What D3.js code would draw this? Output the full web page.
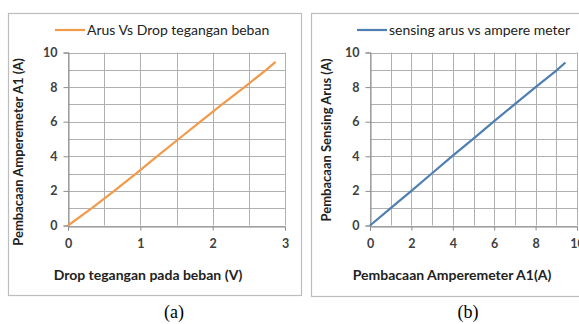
<!DOCTYPE html>
<html>
<head>
<meta charset="utf-8">
<script src="https://cdn.jsdelivr.net/npm/d3@7"></script>
<style>
  html, body { margin: 0; padding: 0; background: #fff; }
  svg { display: block; }
</style>
</head>
<body>
<svg id="chart" width="579" height="324"></svg>
<script>
// chart (a): current vs voltage drop across load
const dropVolt = [0, 0.33, 0.64, 0.94, 1.23, 1.53, 1.83, 2.13, 2.44, 2.74, 2.87];
const arusA = [0, 1, 2, 3, 4, 5, 6, 7, 8, 9, 9.46];
// chart (b): current sensor vs ampere meter
const ampereMeter = [0, 1, 2, 3, 4, 5, 6, 7, 8, 9, 9.44];
const sensingArus = [0, 1, 2, 3.02, 4.04, 5.02, 6.03, 7.02, 8, 8.95, 9.42];

const xTicksA = [0, 1, 2, 3];
const xTicksB = [0, 2, 4, 6, 8, 10];
const yTicks = [0, 2, 4, 6, 8, 10];

const svg = d3.select('#chart');
const font = 'Lato, "Open Sans", sans-serif';

function panel(opts) {
  const g = svg.append('g');

  // outer frame
  g.append('rect')
    .attr('x', opts.frame[0] + 0.5).attr('y', opts.frame[1] + 0.5)
    .attr('width', opts.frame[2]).attr('height', opts.frame[3])
    .attr('fill', '#fff').attr('stroke', '#bdbdbd').attr('stroke-width', 1.2);

  const x = d3.scaleLinear().domain(opts.xDomain).range([opts.left, opts.right]);
  const y = d3.scaleLinear().domain([0, 10]).range([225.5, 52.5]);

  // grid
  g.append('g').selectAll('line').data(d3.range(opts.xDomain[0], opts.xDomain[1] + 1e-9, opts.xMinor))
    .join('line')
    .attr('x1', d => Math.round(x(d)) + 0.5).attr('x2', d => Math.round(x(d)) + 0.5)
    .attr('y1', y(0)).attr('y2', y(10))
    .attr('stroke', '#b0b0b0').attr('stroke-width', 1);
  g.append('g').selectAll('line').data(d3.range(0, 10.01, 1))
    .join('line')
    .attr('x1', x(opts.xDomain[0])).attr('x2', x(opts.xDomain[1]))
    .attr('y1', d => Math.round(y(d)) + 0.5).attr('y2', d => Math.round(y(d)) + 0.5)
    .attr('stroke', '#b0b0b0').attr('stroke-width', 1);

  // axes
  const yAxis = g.append('g')
    .attr('transform', `translate(${Math.round(x(opts.xDomain[0])) + 0.5},0)`)
    .call(d3.axisLeft(y).tickValues(yTicks).tickFormat(d3.format('d')).tickSize(5).tickPadding(6));
  const xAxis = g.append('g')
    .attr('transform', `translate(0,${Math.round(y(0)) + 0.5})`)
    .call(d3.axisBottom(x).tickValues(opts.xTicks).tickFormat(d3.format('d')).tickSize(4).tickPadding(9));
  [yAxis, xAxis].forEach(a => {
    a.select('.domain').attr('stroke', '#8c8c8c');
    a.selectAll('.tick line').attr('stroke', '#8c8c8c');
    a.selectAll('.tick text')
      .attr('fill', '#404040')
      .style('font-family', font).style('font-size', '12.5px').style('font-weight', 'bold');
  });

  // series line
  const pts = opts.xs.map((v, i) => [v, opts.ys[i]]);
  g.append('path')
    .datum(pts)
    .attr('fill', 'none')
    .attr('stroke', opts.color).attr('stroke-width', 2.2)
    .attr('stroke-linejoin', 'round')
    .attr('d', d3.line().x(d => x(d[0])).y(d => y(d[1])));

  // legend
  g.append('line')
    .attr('x1', opts.legendX).attr('x2', opts.legendX + 30)
    .attr('y1', 30).attr('y2', 30)
    .attr('stroke', opts.color).attr('stroke-width', 2.2);
  g.append('text')
    .attr('x', opts.legendX + 32).attr('y', 34.5)
    .attr('fill', '#222')
    .style('font-family', font).style('font-size', '14px')
    .text(opts.legend);

  // axis titles
  g.append('text')
    .attr('x', opts.xTitleX).attr('y', 280)
    .attr('text-anchor', 'middle')
    .attr('fill', '#222')
    .style('font-family', font).style('font-size', '14px').style('font-weight', 'bold')
    .text(opts.xTitle);
  g.append('text')
    .attr('transform', `translate(${opts.yTitleX},${opts.yTitleY}) rotate(-90)`)
    .attr('text-anchor', 'middle')
    .attr('fill', '#222')
    .style('font-family', font).style('font-size', '13px').style('font-weight', 'bold')
    .text(opts.yTitle);

  // caption
  g.append('text')
    .attr('x', opts.captionX).attr('y', 318)
    .attr('text-anchor', 'middle')
    .attr('fill', '#000')
    .style('font-family', '"Liberation Serif", "DejaVu Serif", serif').style('font-size', '18px')
    .text(opts.caption);
}

panel({
  frame: [8, 13, 293, 282],
  xDomain: [0, 3], xMinor: 0.5, xTicks: xTicksA,
  left: 68, right: 285,
  xs: dropVolt, ys: arusA,
  color: '#f39a4a',
  legendX: 55, legend: 'Arus Vs Drop tegangan beban',
  xTitle: 'Drop tegangan pada beban (V)', xTitleX: 148,
  yTitle: 'Pembacaan Amperemeter A1 (A)', yTitleX: 23, yTitleY: 152,
  caption: '(a)', captionX: 174
});

panel({
  frame: [311, 13, 290, 283],
  xDomain: [0, 10], xMinor: 1, xTicks: xTicksB,
  left: 370, right: 577,
  xs: ampereMeter, ys: sensingArus,
  color: '#4f7fb0',
  legendX: 357, legend: 'sensing arus vs ampere meter',
  xTitle: 'Pembacaan Amperemeter A1(A)', xTitleX: 452,
  yTitle: 'Pembacaan Sensing Arus (A)', yTitleX: 331, yTitleY: 140,
  caption: '(b)', captionX: 468
});
</script>
</body>
</html>
